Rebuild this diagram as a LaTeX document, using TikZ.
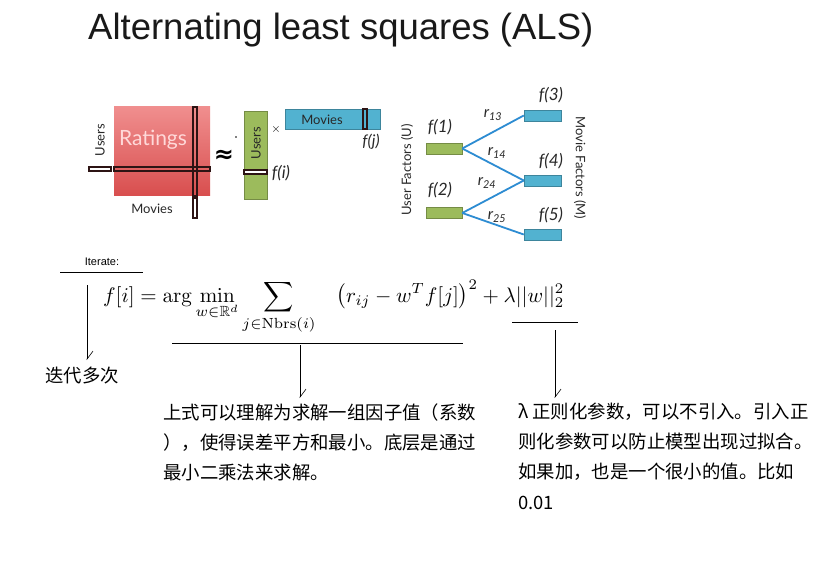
\documentclass[tikz,border=0pt]{standalone}
\usepackage{amsmath,amssymb}
\usepackage{graphicx}
\usepackage[no-math]{fontspec}
\setmainfont{Liberation Sans}
\newfontfamily\cjk{Noto Sans CJK SC}
\newfontfamily\gill{Lato}
\newfontfamily\dejavu{DejaVu Sans}
\usetikzlibrary{arrows.meta}

\definecolor{ratingtop}{RGB}{240,142,142}
\definecolor{ratingbot}{RGB}{216,78,78}
\definecolor{usergreen}{RGB}{156,187,92}
\definecolor{movieblue}{RGB}{82,178,208}
\definecolor{edgeblue}{RGB}{45,140,210}
\definecolor{barline}{RGB}{45,20,20}
\definecolor{inktext}{RGB}{40,40,40}

\tikzset{
  slotbar/.style={draw=barline,line width=1.1pt},
  ratingbox/.style={inner sep=0pt,minimum width=96pt,minimum height=89pt,top color=ratingtop,bottom color=ratingbot,draw=none},
  ufac/.style={inner sep=0pt,minimum width=36pt,minimum height=11pt,fill=usergreen,draw=usergreen!75!black,line width=0.5pt},
  mfac/.style={inner sep=0pt,minimum width=37pt,minimum height=11pt,fill=movieblue,draw=movieblue!75!black,line width=0.5pt},
  gilltxt/.style={inner sep=0pt,text=inktext,font=\gill\fontsize{13}{13}\selectfont},
  flabel/.style={inner sep=0pt,text=inktext,font=\gill\itshape\fontsize{17}{17}\selectfont},
  rlabel/.style={inner sep=0pt,text=inktext,font=\gill\itshape\fontsize{15.5}{15.5}\selectfont},
  edgeline/.style={draw=edgeblue,line width=1.8pt},
  note/.style={inner sep=0pt,anchor=base west,font=\cjk\fontsize{18.4}{18.4}\selectfont},
  underl/.style={draw=black,line width=0.7pt},
  callout/.style={draw=black,line width=0.6pt,-{Straight Barb[left,length=8pt,width=12pt]}}
}

\begin{document}
\begin{tikzpicture}[x=1pt,y=-1pt]
\path[use as bounding box,fill=white] (0,0) rectangle (826,561);

% title
\node[inner sep=0pt,anchor=base west,text=black!90,font=\fontsize{36.5}{36.5}\selectfont] (title) at (88,40) {Alternating least squares (ALS)};

% ratings matrix
\node[ratingbox] (ratings) at (162,151.5) {};
\node[inner sep=0pt,text=white!85!red,font=\gill\fontsize{21}{21}\selectfont] (ratingstxt) at (153,140) {Ratings};
\draw[slotbar] (193,107) rectangle (197,196);
\draw[slotbar] (114,167) rectangle (210,171);
\draw[slotbar,fill=white] (89,167) rectangle (111,171);
\draw[slotbar,fill=white] (193,198) rectangle (197,218);
\node[gilltxt,rotate=90] (usersl) at (100,140) {Users};
\node[gilltxt] (moviesl) at (152,209) {Movies};
\node[inner sep=0pt,font=\dejavu\bfseries\fontsize{24}{24}\selectfont] (approx) at (224,156) {≈};
\fill (236,137) circle (0.8pt);

% user factor column
\node[inner sep=0pt,minimum width=23pt,minimum height=88pt,fill=usergreen,draw=usergreen!75!black,line width=0.5pt] (ucol) at (255.5,155) {};
\draw[slotbar,fill=white] (244,170) rectangle (267,174);
\node[gilltxt,rotate=90] (usersc) at (256,143) {Users};
\node[flabel] (fi) at (281,173) {f(i)};
\node[inner sep=0pt,font=\fontsize{13}{13}\selectfont] (times) at (276,130) {$\times$};

% movie factor row
\node[inner sep=0pt,minimum width=95pt,minimum height=20pt,fill=movieblue,draw=movieblue!75!black,line width=0.5pt] (mrow) at (332.5,119) {};
\node[gilltxt] (moviesr) at (322,120) {Movies};
\draw[slotbar] (363,109) rectangle (367,129);
\node[flabel,font=\gill\itshape\fontsize{16}{16}\selectfont] (fj) at (371,142) {f(j)};

% factor graph
\node[ufac] (u1) at (444,148.5) {};
\node[ufac] (u2) at (444,213) {};
\node[mfac] (m3) at (542.5,115.5) {};
\node[mfac] (m4) at (542.5,180.5) {};
\node[mfac] (m5) at (542.5,234.5) {};
\node[flabel] (f1) at (440,127) {f(1)};
\node[flabel] (f2) at (440,190) {f(2)};
\node[flabel] (f3) at (551,95) {f(3)};
\node[flabel] (f4) at (551,161) {f(4)};
\node[flabel] (f5) at (551,215) {f(5)};
\draw[edgeline] (u1.east) -- (m3.west);
\draw[edgeline] (u1.east) -- (m4.west);
\draw[edgeline] (u2.east) -- (m4.west);
\draw[edgeline] (u2.east) -- (m5.west);
\node[rlabel] (r13) at (493,115) {r\textsubscript{13}};
\node[rlabel] (r14) at (497,153) {r\textsubscript{14}};
\node[rlabel] (r24) at (487,183) {r\textsubscript{24}};
\node[rlabel] (r25) at (497,217) {r\textsubscript{25}};
\node[gilltxt,rotate=90] (ufactors) at (407,170) {User Factors (U)};
\node[gilltxt,rotate=-90] (mfactors) at (580,168) {Movie Factors (M)};

% update rule
\node[inner sep=0pt,font=\fontsize{11}{11}\selectfont] (iterate) at (102,262) {Iterate:};
\node[inner sep=0pt,anchor=base west] (eq) at (103,302)
  {\scalebox{2.1}{$\displaystyle f[i] = \arg\min_{w\in\mathbb{R}^d} \sum_{j\in\mathrm{Nbrs}(i)} \quad \bigl(r_{ij} - w^T f[j]\bigr)^2 + \lambda||w||_2^2$}};

\coordinate (ul1a) at (60,272);  \coordinate (ul1b) at (143,272);
\coordinate (ul2a) at (172,343); \coordinate (ul2b) at (463,343);
\coordinate (ul3a) at (512,322); \coordinate (ul3b) at (578,322);
\draw[underl] (ul1a) -- (ul1b);
\draw[underl] (ul2a) -- (ul2b);
\draw[underl] (ul3a) -- (ul3b);

% notes
\node[note] (iternote) at (45,382) {迭代多次};
\node[note] (lsq1) at (163,419) {上式可以理解为求解一组因子值（系数};
\node[note] (lsq2) at (163,449) {），使得误差平方和最小。底层是通过};
\node[note] (lsq3) at (163,479) {最小二乘法来求解。};
\node[note] (reg1) at (518,418) {λ 正则化参数，可以不引入。引入正};
\node[note] (reg2) at (518,448) {则化参数可以防止模型出现过拟合。};
\node[note] (reg3) at (518,478) {如果加，也是一个很小的值。比如};
\node[note] (reg4) at (518,509) {0.01};

\coordinate (a1) at (87,285);
\coordinate (a2) at (300,345);
\coordinate (a3) at (555,330);
\draw[callout] (a1) -- ([yshift=22pt]iternote.base -| a1);
\draw[callout] (a2) -- ([yshift=21pt]lsq1.base -| a2);
\draw[callout] (a3) -- ([yshift=20pt]reg1.base -| a3);
\end{tikzpicture}
\end{document}
